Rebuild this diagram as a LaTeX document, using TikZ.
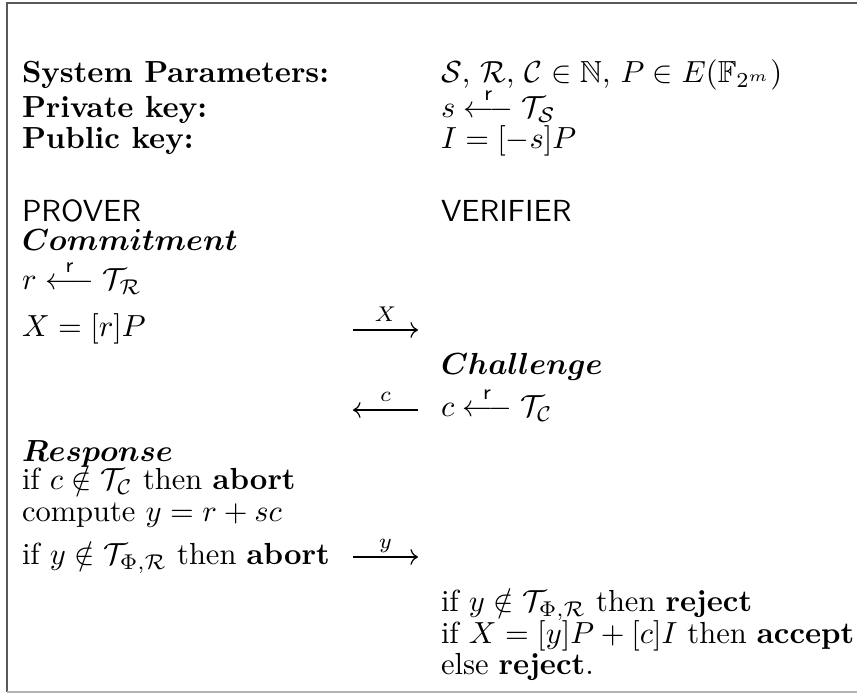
\documentclass[tikz,border=0pt]{standalone}
\usepackage{amsmath,amssymb}
\usetikzlibrary{arrows.meta}
\begin{document}
\begin{tikzpicture}[x=0.3279pt,y=-0.3279pt,
  txt/.style={anchor=base west,inner sep=0pt,outer sep=0pt},
  lbl/.style={anchor=base,inner sep=0pt,outer sep=0pt},
  msg/.style={-{Computer Modern Rightarrow},line width=0.4pt},
  frameline/.style={draw=black!65,line width=0.6pt},
  framelight/.style={draw=black!30,line width=0.6pt}]
\useasboundingbox (0,0) rectangle (857,693);
% frame
\coordinate (ftr) at (857,3);
\coordinate (ftl) at (7,3);
\coordinate (fbl) at (7,692);
\coordinate (fbr) at (857,692);
\draw[frameline] (ftr) -- (ftl) -- (fbl);
\draw[framelight] (fbl) -- (fbr);
% header
\node[txt] (sp)  at (22,83)  {\textbf{System Parameters:}};
\node[txt] (spv) at (441,83) {$\mathcal{S}$, $\mathcal{R}$, $\mathcal{C}\in\mathbb{N}$, $P\in E(\mathbb{F}_{2^m})$};
\node[txt] (pk)  at (22,118) {\textbf{Private key:}};
\node[txt] (pkv) at (441,118) {$s\stackrel{\mathsf{r}}{\longleftarrow}\mathcal{T}_{\mathcal{S}}$};
\node[txt] (pu)  at (22,149) {\textbf{Public key:}};
\node[txt] (puv) at (441,149) {$I=[-s]P$};
% parties
\node[txt] (prover)   at (22,222)  {\textsf{PROVER}};
\node[txt] (verifier) at (441,222) {\textsf{VERIFIER}};
% commitment
\node[txt] (com) at (22,251) {$\boldsymbol{Commitment}$};
\node[txt] (rr)  at (22,290) {$r\stackrel{\mathsf{r}}{\longleftarrow}\mathcal{T}_{\mathcal{R}}$};
\node[txt] (xx)  at (22,337) {$X=[r]P$};
\coordinate (xa) at (353,330);
\coordinate (xb) at (418,330);
\draw[msg] (xa) -- (xb);
\node[lbl] (xl) at (385.5,322) {$\scriptstyle X$};
% challenge
\node[txt] (cha) at (441,375) {$\boldsymbol{Challenge}$};
\node[txt] (cc)  at (441,417) {$c\stackrel{\mathsf{r}}{\longleftarrow}\mathcal{T}_{\mathcal{C}}$};
\coordinate (ca) at (418,410);
\coordinate (cb) at (353,410);
\draw[msg] (ca) -- (cb);
\node[lbl] (cl) at (385.5,402) {$\scriptstyle c$};
% response
\node[txt] (res) at (22,462) {$\boldsymbol{Response}$};
\node[txt] (r1)  at (22,490) {if $c\notin\mathcal{T}_{\mathcal{C}}$ then \textbf{abort}};
\node[txt] (r2)  at (22,522) {compute $y=r+sc$};
\node[txt] (r3)  at (22,565) {if $y\notin\mathcal{T}_{\Phi,\mathcal{R}}$ then \textbf{abort}};
\coordinate (ya) at (353,557);
\coordinate (yb) at (418,557);
\draw[msg] (ya) -- (yb);
\node[lbl] (yl) at (385.5,549) {$\scriptstyle y$};
% verification
\node[txt] (v1) at (441,612) {if $y\notin\mathcal{T}_{\Phi,\mathcal{R}}$ then \textbf{reject}};
\node[txt] (v2) at (441,644) {if $X=[y]P+[c]I$ then \textbf{accept}};
\node[txt] (v3) at (441,675) {else \textbf{reject}.};
\end{tikzpicture}
\end{document}
